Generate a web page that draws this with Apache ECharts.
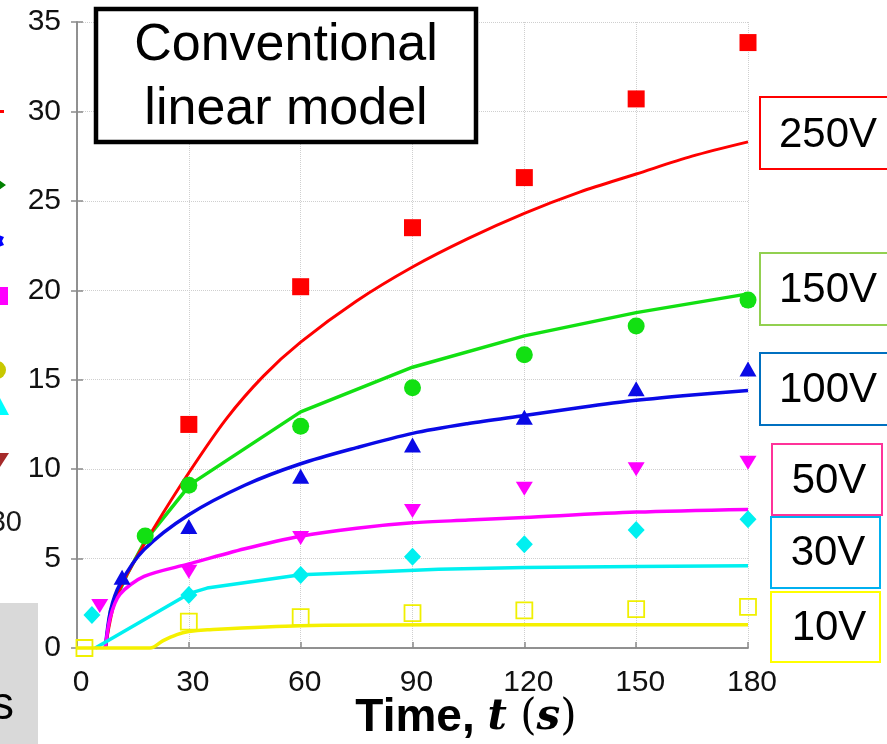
<!DOCTYPE html>
<html><head><meta charset="utf-8">
<script src="https://cdn.jsdelivr.net/npm/echarts@6/dist/echarts.min.js"></script>
<style>html,body{margin:0;padding:0;background:#fff}#c{width:887px;height:744px}</style>
</head><body><div id="c"></div>
<script>
// ---- data ----
const xTicks = [0, 30, 60, 90, 120, 150, 180];
const yTicks = [0, 5, 10, 15, 20, 25, 30, 35];
const voltages = ['250V', '150V', '100V', '50V', '30V', '10V'];

// measured points [t, value]
const meas250 = [[30,12.5],[60,20.2],[90,23.5],[120,26.3],[150,30.7],[180,33.85]];
const meas150 = [[18.3,6.26],[30,9.1],[60,12.4],[90,14.55],[120,16.4],[150,18.0],[180,19.45]];
const meas100 = [[12.1,3.95],[30,6.8],[60,9.6],[90,11.35],[120,12.9],[150,14.5],[180,15.6]];
const meas50  = [[6.1,2.35],[30,4.27],[60,6.15],[90,7.66],[120,8.9],[150,10.0],[180,10.36]];
const meas30  = [[4.0,1.85],[30,2.96],[60,4.08],[90,5.1],[120,5.8],[150,6.6],[180,7.2]];
const meas10  = [[2,0],[30,1.47],[60,1.73],[90,1.95],[120,2.1],[150,2.17],[180,2.3]];

// model curves [t, value]
const model250 = [[7.6,0],[10,2.5],[13.4,4.1],[20.6,6.7],[30,9.8],[40,12.8],[50,15.2],[60,17.1],[75,19.4],[90,21.3],[105,22.9],[120,24.3],[135,25.5],[150,26.5],[165,27.5],[180,28.3]];
const model150 = [[7.6,0],[9,2.1],[13.4,4.1],[18.3,6.0],[30.4,9.15],[60,13.2],[90,15.7],[120,17.45],[150,18.75],[180,19.8]];
const model100 = [[7.6,0],[9,2.1],[11.6,3.6],[18,5.5],[30,7.45],[45,9.1],[60,10.3],[75,11.2],[90,12.0],[105,12.55],[120,13.0],[135,13.45],[150,13.85],[165,14.15],[180,14.4]];
const model50  = [[7.6,0],[8.9,1.7],[11.5,3.0],[18,4.0],[30,4.7],[45,5.55],[60,6.25],[75,6.7],[90,7.0],[105,7.15],[120,7.3],[150,7.6],[180,7.75]];
const model30  = [[4.9,0],[30.4,3.07],[34.9,3.35],[60,4.1],[81,4.27],[97,4.4],[120,4.5],[150,4.55],[180,4.6]];
const model10  = [[0,0],[19.6,0],[23,0.4],[26.8,0.75],[30,0.92],[35,1.02],[60,1.25],[97,1.3],[180,1.3]];

// ---- style ----
const FONT = '"Liberation Sans", Arial, sans-serif';
const C = {red:'#ff0000', green:'#12e012', blue:'#0a0ae6', mag:'#ff00ff', cyan:'#00f0f0', yel:'#f5f000'};
const axisGray = '#8a8a8a';

function lineS(data, color, smooth, w, z){
  return {type:'line', data, smooth, showSymbol:false, symbol:'none', lineStyle:{color, width:w}, z, silent:true, clip:false};
}
function scatS(data, symbol, size, style, rotate){
  return {type:'scatter', data, symbol, symbolSize:size, symbolRotate:rotate||0, itemStyle:Object.assign({opacity:1}, style), z:10, clip:false, silent:true};
}

const chart = echarts.init(document.getElementById('c'), null, {renderer:'canvas'});
chart.setOption({
  animation:false,
  backgroundColor:'#fff',
  grid:{left:77, right:139, top:22, bottom:96, containLabel:false},
  xAxis:[{
    type:'value', min:xTicks[0], max:xTicks[xTicks.length-1], interval:30,
    axisLine:{show:true, lineStyle:{color:axisGray, width:1.5}},
    axisTick:{show:true, inside:true, length:6, lineStyle:{color:axisGray, width:1.5}},
    axisLabel:{color:'#111', fontSize:30, fontFamily:FONT, margin:20, padding:[0,0,0,8]},
    splitLine:{show:true, lineStyle:{color:'#cfcfcf', type:'dotted', width:1}}
  },{
    type:'value', position:'top', min:0, max:180, interval:30,
    axisLine:{show:true, lineStyle:{color:axisGray, width:1.5}},
    axisTick:{show:false}, axisLabel:{show:false}, splitLine:{show:false}
  }],
  yAxis:[{
    type:'value', min:yTicks[0], max:yTicks[yTicks.length-1], interval:5,
    axisLine:{show:true, lineStyle:{color:axisGray, width:1.5}},
    axisTick:{show:true, inside:true, length:6, lineStyle:{color:axisGray, width:1.5}},
    axisLabel:{color:'#111', fontSize:30, fontFamily:FONT, margin:16},
    splitLine:{show:true, lineStyle:{color:'#cfcfcf', type:'dotted', width:1}}
  },{
    type:'value', position:'right', min:0, max:35, interval:5,
    axisLine:{show:true, lineStyle:{color:axisGray, width:1.5}},
    axisTick:{show:true, inside:true, length:6, lineStyle:{color:axisGray, width:1.5}},
    axisLabel:{show:false}, splitLine:{show:false}
  }],
  series:[
    lineS(model150, C.green, false, 3.5, 2),
    lineS(model250, C.red, 0.3, 3, 3),
    lineS(model100, C.blue, 0.3, 3.5, 4),
    lineS(model50, C.mag, 0.3, 3.5, 5),
    lineS(model30, C.cyan, false, 3.5, 6),
    lineS(model10, C.yel, 0.3, 3.5, 7),
    scatS(meas250, 'rect', 17, {color:C.red}),
    scatS(meas150, 'circle', 17, {color:C.green}),
    scatS(meas100, 'triangle', [17,15], {color:C.blue}),
    scatS(meas50, 'triangle', [17,14], {color:C.mag}, 180),
    scatS(meas30, 'diamond', [17,18], {color:C.cyan}),
    scatS(meas10, 'rect', 16, {color:'rgba(255,255,255,0)', borderColor:'#f0f000', borderWidth:1.8})
  ],
  graphic:[
    // annotation box
    {type:'rect', shape:{x:96, y:9, width:380, height:133}, style:{fill:'#fff', stroke:'#000', lineWidth:4.5}, z:20},
    {type:'text', x:286, y:46, style:{text:'Conventional', font:'52px '+FONT, fill:'#000', align:'center', verticalAlign:'middle'}, z:21},
    {type:'text', x:286, y:110, style:{text:'linear model', font:'52px '+FONT, fill:'#000', align:'center', verticalAlign:'middle'}, z:21},
    // voltage label boxes
    {type:'rect', shape:{x:760, y:97, width:140, height:72}, style:{fill:'#fff', stroke:'#ff0000', lineWidth:2}, z:20},
    {type:'text', x:828, y:135, style:{text:voltages[0], font:'42px '+FONT, fill:'#000', align:'center', verticalAlign:'middle'}, z:21},
    {type:'rect', shape:{x:760, y:253, width:140, height:72}, style:{fill:'#fff', stroke:'#92d050', lineWidth:2}, z:20},
    {type:'text', x:828, y:290, style:{text:voltages[1], font:'42px '+FONT, fill:'#000', align:'center', verticalAlign:'middle'}, z:21},
    {type:'rect', shape:{x:760, y:353, width:140, height:72}, style:{fill:'#fff', stroke:'#0070c0', lineWidth:2}, z:20},
    {type:'text', x:828, y:390, style:{text:voltages[2], font:'42px '+FONT, fill:'#000', align:'center', verticalAlign:'middle'}, z:21},
    {type:'rect', shape:{x:772, y:444, width:110, height:71}, style:{fill:'#fff', stroke:'#ff3399', lineWidth:2}, z:20},
    {type:'text', x:829, y:481, style:{text:voltages[3], font:'42px '+FONT, fill:'#000', align:'center', verticalAlign:'middle'}, z:21},
    {type:'rect', shape:{x:771, y:517, width:109, height:71}, style:{fill:'#fff', stroke:'#00b0f0', lineWidth:2}, z:20},
    {type:'text', x:828, y:553, style:{text:voltages[4], font:'42px '+FONT, fill:'#000', align:'center', verticalAlign:'middle'}, z:21},
    {type:'rect', shape:{x:771, y:592, width:109, height:70}, style:{fill:'#fff', stroke:'#ffff00', lineWidth:2}, z:20},
    {type:'text', x:829, y:628, style:{text:voltages[5], font:'42px '+FONT, fill:'#000', align:'center', verticalAlign:'middle'}, z:21},
    // x-axis title
    {type:'text', x:466, y:718, z:21, style:{
      text:'{a|Time, }{b|t}{c| (}{b|s}{c|)}', align:'center', verticalAlign:'middle',
      rich:{
        a:{font:'bold 46px '+FONT, fill:'#000'},
        b:{font:'italic bold 42px "DejaVu Serif", "Liberation Serif", serif', fill:'#000'},
        c:{font:'42px "DejaVu Serif", "Liberation Serif", serif', fill:'#000'}
      }}},
    // fragments of the neighbouring panel at the left edge
    {type:'rect', shape:{x:-2, y:110, width:6, height:3}, style:{fill:'#ff0000'}, z:5},
    {type:'polygon', shape:{points:[[-4,178],[6,185],[-4,192],[0,185]]}, style:{fill:'#008000'}, z:5},
    {type:'polygon', shape:{points:[[-6,233],[4,237],[2,241],[4,245],[-6,249]]}, style:{fill:'#0000ff'}, z:5},
    {type:'rect', shape:{x:-10, y:287, width:18, height:18}, style:{fill:'#ff00ff'}, z:5},
    {type:'circle', shape:{cx:-3, cy:370, r:9}, style:{fill:'#c8c800'}, z:5},
    {type:'polygon', shape:{points:[[-9,415],[0,398],[9,415]]}, style:{fill:'#00ffff'}, z:5},
    {type:'polygon', shape:{points:[[-9,453],[9,453],[0,467]]}, style:{fill:'#a52a2a'}, z:5},
    {type:'text', x:22, y:523, style:{text:'30', font:'29px '+FONT, fill:'#1a1a1a', align:'right', verticalAlign:'middle'}, z:5},
    {type:'rect', shape:{x:0, y:603, width:38, height:141}, style:{fill:'#d9d9d9'}, z:5},
    {type:'text', x:14, y:706, style:{text:'s', font:'46px '+FONT, fill:'#000', align:'right', verticalAlign:'middle'}, z:6}
  ]
});
</script></body></html>
